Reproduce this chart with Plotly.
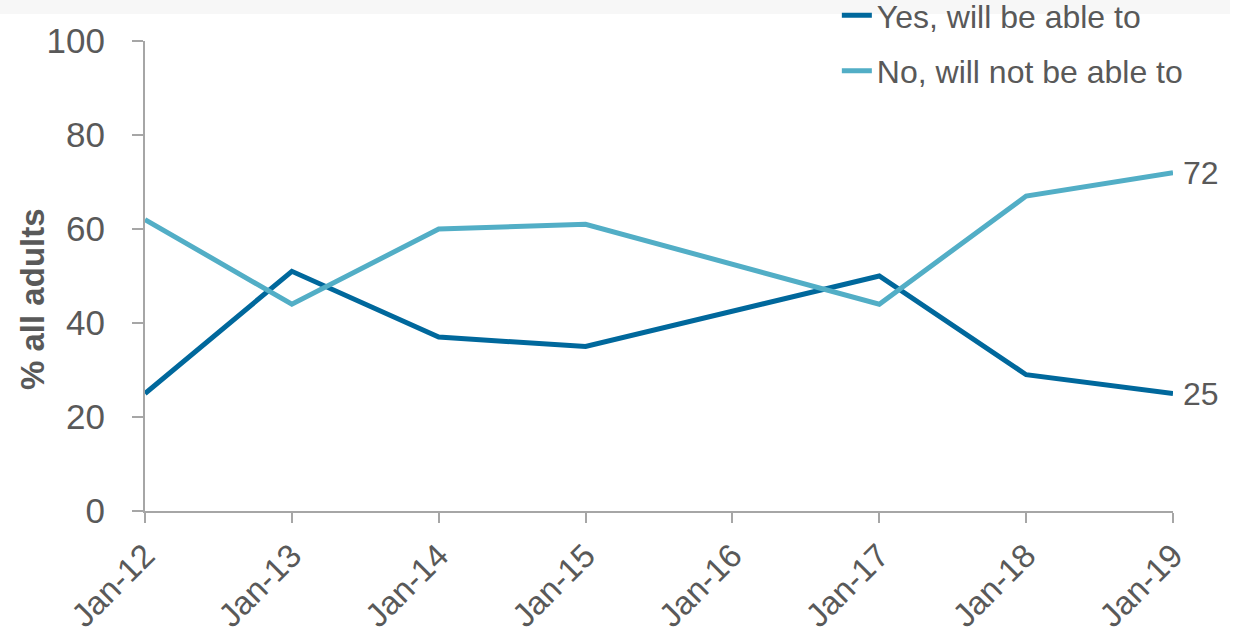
import plotly.graph_objects as go

categories = ["Jan-12", "Jan-13", "Jan-14", "Jan-15", "Jan-16", "Jan-17", "Jan-18", "Jan-19"]
yes_values = [25, 51, 37, 35, None, 50, 29, 25]
no_values = [62, 44, 60, 61, None, 44, 67, 72]
yes_name = "Yes, will be able to"
no_name = "No, will not be able to"
y_ticks = [0, 20, 40, 60, 80, 100]
y_title = "% all adults"

TEXT = "#595959"
AXIS = "#A6A6A6"
FONT = "Liberation Sans, Arial, sans-serif"

fig = go.Figure()
fig.add_trace(go.Scatter(x=categories, y=yes_values, name=yes_name, mode="lines",
                         connectgaps=True, legendgroup="a",
                         line=dict(color="#00689C", width=5)))
fig.add_trace(go.Scatter(x=categories, y=no_values, name=no_name, mode="lines",
                         connectgaps=True, legendgroup="b",
                         line=dict(color="#52AEC6", width=5)))

for yv in (yes_values[-1], no_values[-1]):
    fig.add_annotation(x=categories[-1], y=yv, text=str(yv), showarrow=False,
                       xanchor="left", yanchor="middle", xshift=8,
                       font=dict(size=32, color=TEXT, family=FONT))

# y-axis title, placed as in the reference (slightly below axis centre)
fig.add_annotation(xref="paper", yref="paper", x=(32 - 145) / 1028, y=(511 - 299) / 470,
                   text="<b>" + y_title + "</b>", textangle=-90, showarrow=False,
                   xanchor="center", yanchor="middle",
                   font=dict(size=33, color=TEXT, family=FONT))

fig.add_shape(type="rect", xref="paper", yref="paper",
              x0=-145 / 1028, x1=(1230 - 145) / 1028,
              y0=1.0 + (41 - 14) / 470, y1=1.2, fillcolor="#F7F7F7",
              line=dict(width=0), layer="below")

fig.update_layout(
    width=1237, height=635,
    margin=dict(l=145, r=64, t=41, b=124, autoexpand=False),
    plot_bgcolor="white", paper_bgcolor="white",
    font=dict(family=FONT, color=TEXT),
    showlegend=True,
    legend=dict(x=0.673, y=1.113, xanchor="left", yanchor="top",
                font=dict(size=32, color=TEXT, family=FONT),
                traceorder="grouped", tracegroupgap=11,
                bgcolor="rgba(0,0,0,0)", itemwidth=30),
    xaxis=dict(type="category", range=[0, 7], showgrid=False, zeroline=False,
               showline=True, linecolor=AXIS, linewidth=2,
               ticks="outside", ticklen=10, tickcolor=AXIS, tickwidth=2,
               tickangle=-45, tickfont=dict(size=33, color=TEXT, family=FONT)),
    yaxis=dict(range=[0, 100], tickvals=y_ticks, showgrid=False, zeroline=False,
               showline=True, linecolor=AXIS, linewidth=2,
               ticks="outside", ticklen=11, tickcolor=AXIS, tickwidth=2,
               ticklabelstandoff=20,
               tickfont=dict(size=35, color=TEXT, family=FONT)),
)

fig.write_html("out.html", config={"displayModeBar": False},
               post_script="document.body.style.margin='0';")
